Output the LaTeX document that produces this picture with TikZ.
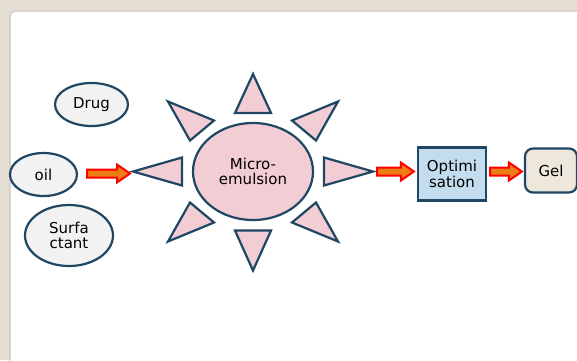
\documentclass[tikz,border=0pt]{standalone}
\usepackage{xcolor}
\usepackage{fontspec}
\setmainfont{DejaVu Sans}
\usepackage{tikz}
\usetikzlibrary{
  shapes.geometric,
  calc
}
\definecolor{SlideBg}{HTML}{E4DED3}
\definecolor{PanelEdge}{HTML}{C4C1BB}
\definecolor{InkNavy}{HTML}{1F4763}
\definecolor{PaleGrey}{HTML}{F2F2F2}
\definecolor{SoftPink}{HTML}{F2CDD4}
\definecolor{SkyBlue}{HTML}{C3DCEE}
\definecolor{Cream}{HTML}{EEE8DC}
\definecolor{ArrowRed}{HTML}{FF0000}
\definecolor{ArrowOrange}{HTML}{EE7D16}

\tikzset{
  ingredient/.style={ellipse,draw=InkNavy,line width=2.2pt,fill=PaleGrey,
    inner sep=0pt,align=center,font=\fontsize{15}{15.5}\selectfont},
  core/.style={ingredient,fill=SoftPink},
  ray/.style={draw=InkNavy,line width=2.2pt,fill=SoftPink,line join=miter},
  stage/.style={rectangle,draw=InkNavy,line width=2.2pt,fill=SkyBlue,
    inner sep=0pt,align=center,font=\fontsize{15}{15.5}\selectfont},
  product/.style={stage,fill=Cream,rounded corners=8pt}
}

% block arrow from #1 to #2, kept on the height of #1
\newcommand{\blockarrow}[2]{%
  \path[draw=ArrowRed,fill=ArrowOrange,line width=2pt,line join=miter]
    let \p1=(#1), \p2=(#2) in
    (\x1,\y1+4pt) -- (\x2-13pt,\y1+4pt) -- (\x2-13pt,\y1+9pt) -- (\x2,\y1)
    -- (\x2-13pt,\y1-9pt) -- (\x2-13pt,\y1-4pt) -- (\x1,\y1-4pt) -- cycle;}

\begin{document}
\begin{tikzpicture}[x=1pt,y=-1pt]
  \useasboundingbox (0,0) rectangle (577,360);
  % slide background
  \fill[SlideBg] (0,0) rectangle (577,360);
  \fill[white,rounded corners=6pt] (10,11) rectangle (600,380);
  \draw[PanelEdge,line width=1pt,rounded corners=6pt] (10,380) -- (10,11) -- (600,11);

  % ingredients
  \node[ingredient,minimum width=73,minimum height=43] (drug) at (91.5,104.5) {Drug};
  \node[ingredient,minimum width=67,minimum height=43] (oil) at (43.5,174.5) {oil};
  \node[ingredient,minimum width=88,minimum height=61] (surf) at (69,235.5) {Surfa\\ctant};

  % micro-emulsion with its rays
  \node[core,minimum width=120,minimum height=97] (mic) at (253,171.5) {Micro-\\emulsion};
  \begin{scope}[shift={(mic.center)}]
    \foreach \tx/\ty/\ax/\ay/\bx/\by in {
        0/-97.5/-18/-58.5/18/-58.5,
        0/99/-18/59/18/59,
        -120/0/-71/-14/-71/14,
        120/0/71/-14/71/14,
        -85/-70/-39/-51/-63/-31,
        85/-70/39/-51/63/-31,
        -85/70/-39/51/-63/31,
        85/70/39/51/63/31}
      \draw[ray] (\tx,\ty) -- (\ax,\ay) -- (\bx,\by) -- cycle;
    \coordinate (rayW) at (-120,0);
    \coordinate (rayE) at (120,0);
  \end{scope}

  % later stages
  \node[stage,minimum width=68,minimum height=53] (opt) at (452,174) {Optimi\\sation};
  \node[product,minimum width=52,minimum height=44] (gel) at (551,170.5) {Gel};

  % arrows
  \coordinate (a1s) at ($(oil.east)+(9,-1)$);
  \coordinate (a2s) at ($(rayE)+(4,0)$);
  \coordinate (a3s) at ($(opt.east |- mic.center)+(3,0)$);
  \blockarrow{a1s}{$(rayW)+(-3,0)$}
  \blockarrow{a2s}{$(opt.west)+(-3,0)$}
  \blockarrow{a3s}{$(gel.west)+(-2,0)$}
\end{tikzpicture}
\end{document}
